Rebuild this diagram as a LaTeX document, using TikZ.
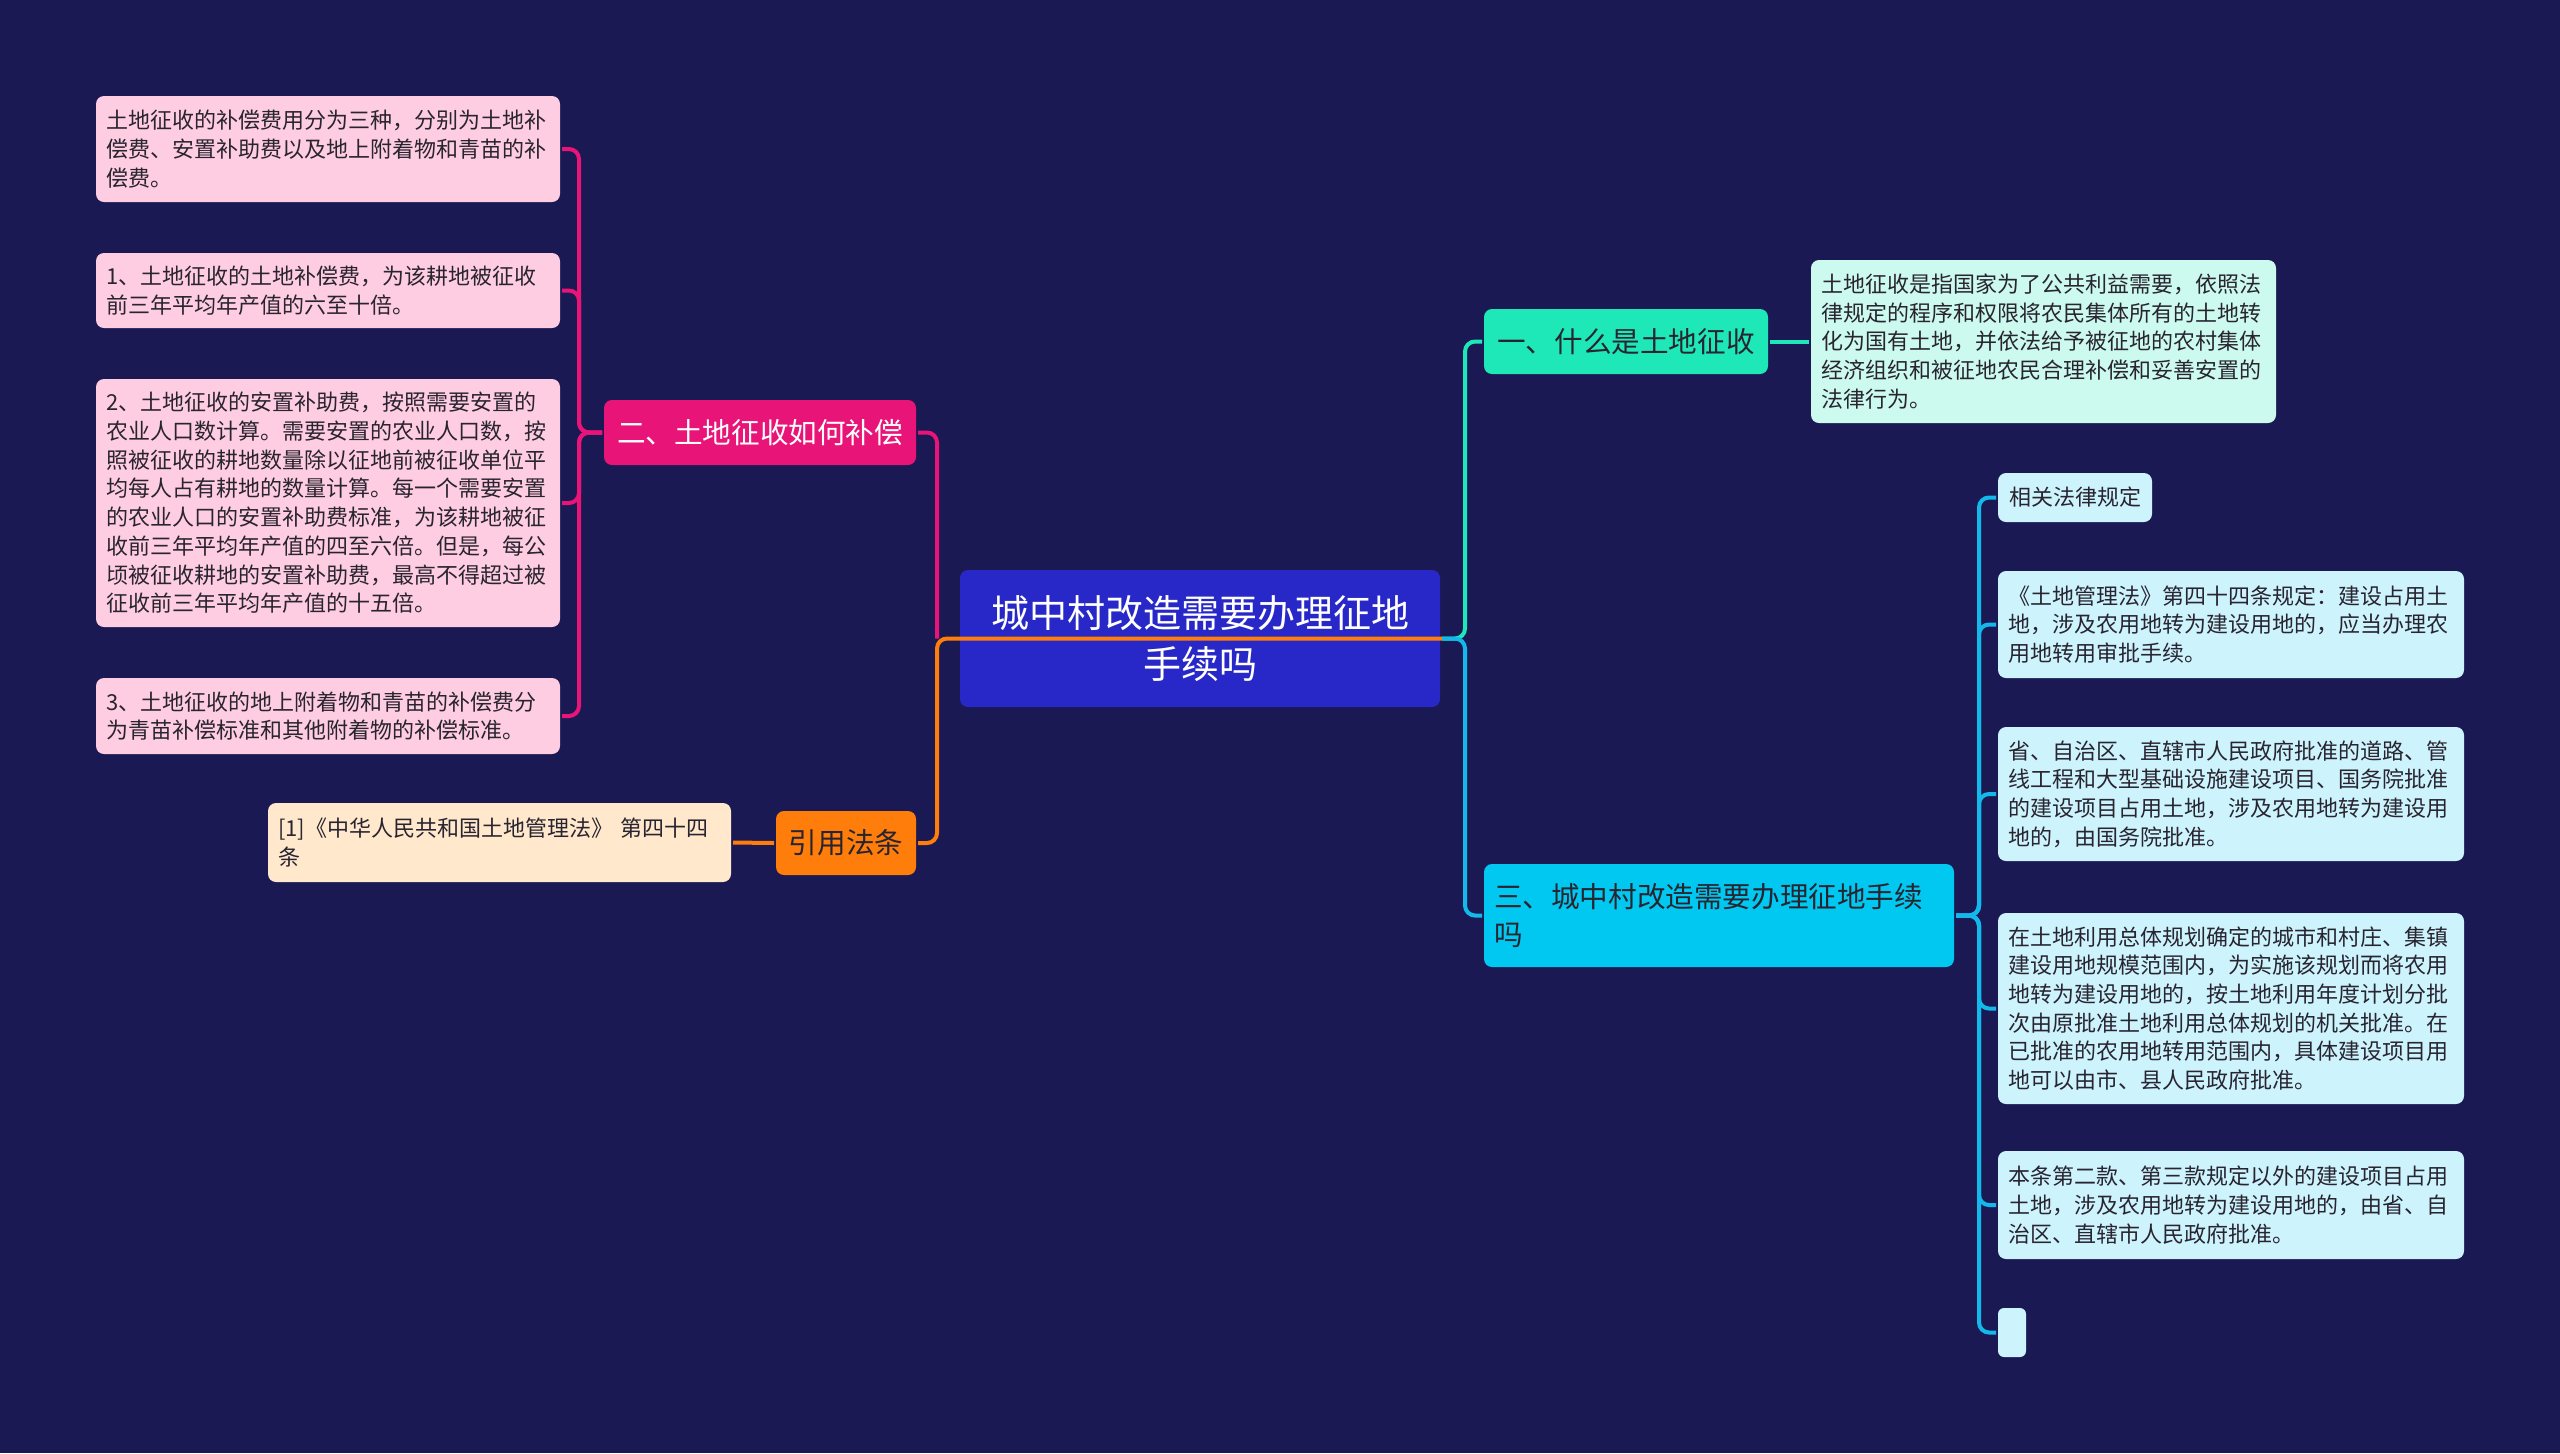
\documentclass[tikz,border=0pt]{standalone}
\usepackage{fontspec}
\setmainfont{Noto Sans CJK SC}
\usetikzlibrary{calc}

\definecolor{bgnavy}{RGB}{26,25,83}
\definecolor{ctrblue}{RGB}{40,40,200}
\definecolor{magbr}{RGB}{232,20,120}
\definecolor{orgbr}{RGB}{255,125,10}
\definecolor{mintbr}{RGB}{30,232,184}
\definecolor{cyanbr}{RGB}{0,200,240}
\definecolor{leafpink}{RGB}{255,205,225}
\definecolor{leafpeach}{RGB}{255,232,204}
\definecolor{leafmint}{RGB}{205,250,238}
\definecolor{leafcyan}{RGB}{205,243,252}
\definecolor{cyanln}{RGB}{20,185,235}
\definecolor{txtdark}{RGB}{40,36,48}

\begin{document}
\begin{tikzpicture}[x=0.5pt, y=-0.5pt, line width=2pt,
    base/.style={rectangle, rounded corners=4pt, inner xsep=5pt, inner ysep=0pt},
    small/.style={font=\fontsize{11pt}{14.35pt}\selectfont, align=left},
    big/.style={font=\fontsize{14.3pt}{18.8pt}\selectfont},
    pinkleaf/.style={base, small, fill=leafpink, text=txtdark, text width=222pt, minimum height=#1},
    cyanleaf/.style={base, small, fill=leafcyan, text=txtdark, text width=223pt, minimum height=#1},
    magline/.style={draw=magbr, rounded corners=5pt},
    orgline/.style={draw=orgbr, rounded corners=5pt},
    mintline/.style={draw=mintbr, rounded corners=5pt},
    cyanline/.style={draw=cyanln, rounded corners=5pt}]
    % 背景
    \fill[bgnavy] (0,0) rectangle (2560,1453);

    % 中心主题
    \node[base, fill=ctrblue, text=white, align=center, text width=230pt, minimum height=68.5pt,
          font=\fontsize{19pt}{25.3pt}\selectfont] (ctr) at (1200,638.5) {城中村改造需要办理征地\\手续吗};

    % 左侧：二、土地征收如何补偿
    \node[base, big, fill=magbr, text=white, minimum width=156pt, minimum height=32.5pt] (comp) at (760,432.5) {二、土地征收如何补偿};
    \node[pinkleaf=53pt] (comp1) at (328,149) {土地征收的补偿费用分为三种，分别为土地补\\偿费、安置补助费以及地上附着物和青苗的补\\偿费。};
    \node[pinkleaf=37.5pt] (comp2) at (328,290.5) {1、土地征收的土地补偿费，为该耕地被征收\\前三年平均年产值的六至十倍。};
    \node[pinkleaf=124pt] (comp3) at (328,503) {2、土地征收的安置补助费，按照需要安置的\\农业人口数计算。需要安置的农业人口数，按\\照被征收的耕地数量除以征地前被征收单位平\\均每人占有耕地的数量计算。每一个需要安置\\的农业人口的安置补助费标准，为该耕地被征\\收前三年平均年产值的四至六倍。但是，每公\\顷被征收耕地的安置补助费，最高不得超过被\\征收前三年平均年产值的十五倍。};
    \node[pinkleaf=38pt] (comp4) at (328,716) {3、土地征收的地上附着物和青苗的补偿费分\\为青苗补偿标准和其他附着物的补偿标准。};

    % 左侧：引用法条
    \node[base, big, fill=orgbr, text=txtdark, minimum width=70pt, minimum height=32pt] (cite) at (846,843) {引用法条};
    \node[base, small, fill=leafpeach, text=txtdark, text width=221.5pt, minimum height=39.5pt] (cite1) at (499.5,842.5) {[1]《中华人民共和国土地管理法》 第四十四\\条};

    % 右侧：一、什么是土地征收
    \node[base, big, fill=mintbr, text=txtdark, minimum width=142pt, minimum height=32.5pt] (what) at (1626,341.5) {一、什么是土地征收};
    \node[base, small, fill=leafmint, text=txtdark, text width=222.5pt, minimum height=81.5pt] (what1) at (2043.5,341.5) {土地征收是指国家为了公共利益需要，依照法\\律规定的程序和权限将农民集体所有的土地转\\化为国有土地，并依法给予被征地的农村集体\\经济组织和被征地农民合理补偿和妥善安置的\\法律行为。};

    % 右侧：三、城中村改造需要办理征地手续吗
    \node[base, big, align=left, fill=cyanbr, text=txtdark, text width=225pt, minimum height=51.5pt] (need) at (1719,915.5) {三、城中村改造需要办理征地手续\\吗};
    \node[base, small, fill=leafcyan, text=txtdark, minimum width=77pt, minimum height=24.5pt] (law0) at (2075,497.5) {相关法律规定};
    \node[cyanleaf=53.5pt] (law1) at (2231,624.5) {《土地管理法》第四十四条规定：建设占用土\\地，涉及农用地转为建设用地的，应当办理农\\用地转用审批手续。};
    \node[cyanleaf=67pt] (law2) at (2231,794) {省、自治区、直辖市人民政府批准的道路、管\\线工程和大型基础设施建设项目、国务院批准\\的建设项目占用土地，涉及农用地转为建设用\\地的，由国务院批准。};
    \node[cyanleaf=95.5pt] (law3) at (2231,1008.5) {在土地利用总体规划确定的城市和村庄、集镇\\建设用地规模范围内，为实施该规划而将农用\\地转为建设用地的，按土地利用年度计划分批\\次由原批准土地利用总体规划的机关批准。在\\已批准的农用地转用范围内，具体建设项目用\\地可以由市、县人民政府批准。};
    \node[cyanleaf=54pt] (law4) at (2231,1205) {本条第二款、第三款规定以外的建设项目占用\\土地，涉及农用地转为建设用地的，由省、自\\治区、直辖市人民政府批准。};
    \node[base, fill=leafcyan, inner xsep=0pt, rounded corners=3pt, minimum width=14pt, minimum height=24.5pt] (law5) at (2012,1332.5) {};

    % 连线
    \coordinate (lhub) at ([xshift=-10.5pt]ctr.west);
    \coordinate (rhub) at ([xshift=11.5pt]ctr.east);
    \coordinate (mhub) at ([xshift=-11.5pt]comp.west);
    \coordinate (nhub) at ([xshift=11.5pt]need.east);

    \draw[orgline] (ctr.east) -- (lhub) |- (cite.east);
    \draw[magline] (lhub) |- (comp.east);
    \foreach \n in {comp1,comp2,comp3,comp4}
        \draw[magline] (comp.west) -- (mhub) |- (\n.east);
    \draw[orgline] (cite.west) -- (cite1.east);

    \draw[mintline] (ctr.east) -- (rhub) |- (what.west);
    \draw[mintline] (what.east) -- (what1.west);
    \draw[cyanline] (ctr.east) -- (rhub) |- (need.west);
    \foreach \n in {law0,law1,law2,law3,law4,law5}
        \draw[cyanline] (need.east) -- (nhub) |- (\n.west);
\end{tikzpicture}
\end{document}
